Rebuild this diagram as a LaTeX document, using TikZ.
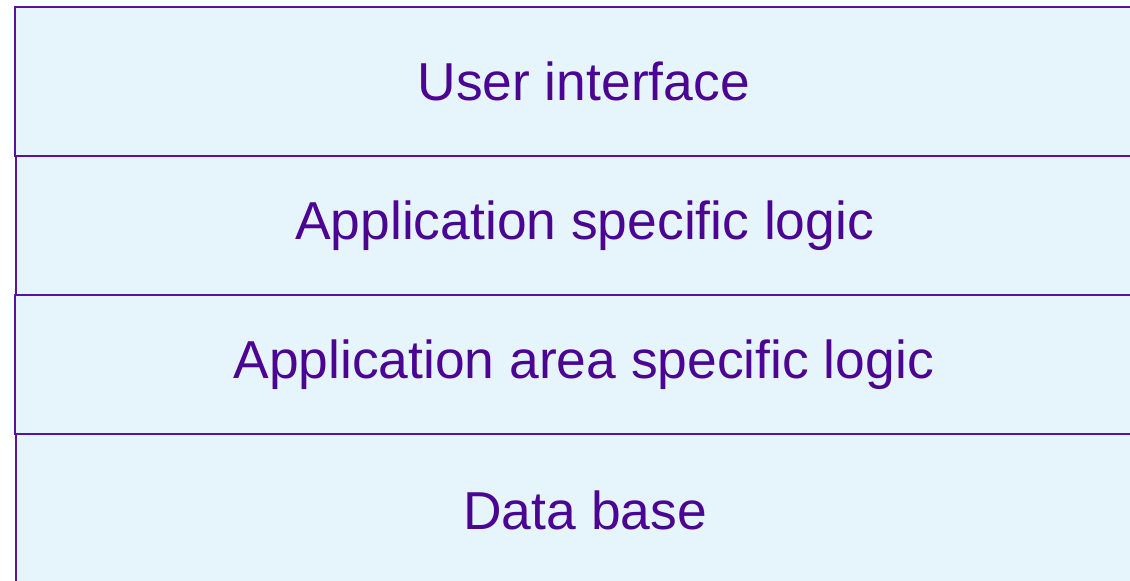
\documentclass[tikz,border=0pt]{standalone}
\usepackage{fontspec}
\setmainfont{Liberation Sans}
\definecolor{fillc}{HTML}{E6F4FB}
\definecolor{linec}{HTML}{5A12A0}
\definecolor{textc}{HTML}{4B0592}
\begin{document}
\begin{tikzpicture}[x=1pt,y=-1pt,
  layerbox/.style={draw=linec, line width=2.3pt, fill=fillc, text=textc,
    font=\fontsize{53.4}{60}\selectfont, rectangle, inner sep=0pt,
    anchor=north west, minimum width=1138pt}]
\useasboundingbox (0,0) rectangle (1130,581);
\clip (0,0) rectangle (1130,581);
\node[layerbox, minimum height=149.5pt] (ui) at (13.5,5.5) {User interface};
\node[layerbox, minimum height=138.5pt] (asl) at (14.5,155) {Application specific logic};
\node[layerbox, minimum height=139.5pt] (aasl) at (13.5,293.5) {Application area specific logic};
\node[layerbox, minimum height=152pt] (db) at (15,433) {Data base};
\end{tikzpicture}
\end{document}
